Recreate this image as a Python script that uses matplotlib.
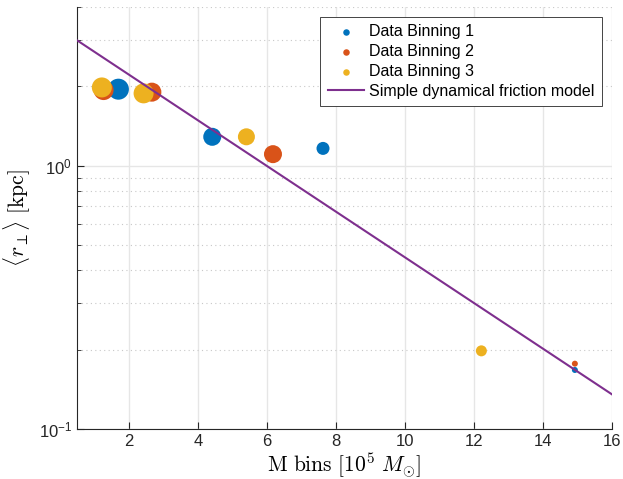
import matplotlib.pyplot as plt
import numpy as np

plt.rcParams['font.family'] = ['Liberation Sans', 'DejaVu Sans']
plt.rcParams['mathtext.fontset'] = 'custom'
plt.rcParams['mathtext.rm'] = 'Liberation Sans'
plt.rcParams['mathtext.it'] = 'Liberation Sans:italic'

# valori
x_bin1 = [1.70, 4.42, 7.63, 14.93]
y_bin1 = [1.95, 1.286, 1.162, 0.1675]
d_bin1 = [21, 18, 13, 6]      # diametro marker (px)

x_bin2 = [1.27, 2.67, 6.18, 14.93]
y_bin2 = [1.935, 1.90, 1.105, 0.177]
d_bin2 = [20, 19, 18, 6]

x_bin3 = [1.22, 2.43, 5.41, 12.22]
y_bin3 = [1.98, 1.88, 1.286, 0.198]
d_bin3 = [20, 20, 17, 11]

model_x = [0.5, 16.0]
model_y = [2.99, 0.1355]

colori = ['#0072BD', '#D95319', '#EDB120']
etichette = ['Data Binning 1', 'Data Binning 2', 'Data Binning 3']

fig = plt.figure(figsize=(6.23, 4.79), dpi=100)
ax = fig.add_axes([0.1236, 0.1044, 0.8584, 0.881])

def area(diametri):
    # px -> pt, poi area per scatter
    return (np.array(diametri) * 72 / 100) ** 2

serie = [(x_bin1, y_bin1, d_bin1), (x_bin2, y_bin2, d_bin2), (x_bin3, y_bin3, d_bin3)]
for (xs, ys, ds), c, lab in zip(serie, colori, etichette):
    ax.scatter(xs, ys, s=area(ds), color=c, linewidths=0, label=lab, zorder=3)

ax.plot(model_x, model_y, color='#7E2F8E', lw=1.5, label='Simple dynamical friction model', zorder=4)

ax.set_yscale('log')
ax.set_xlim(0.5, 16)
ax.set_ylim(0.1, 4)
ax.set_xticks([2, 4, 6, 8, 10, 12, 14, 16])

ax.grid(True, which='major', color='#e6e6e6', lw=1.0, ls='-')
ax.grid(True, which='minor', axis='y', color='#c8c8c8', lw=0.8, ls=(0, (1, 3)))
ax.set_axisbelow(True)

for lato in ['top', 'right']:
    ax.spines[lato].set_visible(False)
for lato in ['left', 'bottom']:
    ax.spines[lato].set_color('#262626')
    ax.spines[lato].set_linewidth(0.8)
ax.tick_params(which='both', direction='in', colors='#262626', labelsize=12)
ax.tick_params(which='major', length=5)
ax.tick_params(which='minor', length=3)
ax.tick_params(axis='x', which='minor', bottom=False)

ax.set_xlabel(r'$\mathrm{M\ bins\ [10^5\ }M_{\odot}\mathrm{]}$', fontsize=15.5, labelpad=1,
              math_fontfamily='cm')
ax.set_ylabel(r'$\langle r_{\perp} \rangle\ \mathrm{[kpc]}$', fontsize=15.5, labelpad=4,
              math_fontfamily='cm')

leg = ax.legend(loc='upper right', bbox_to_anchor=(0.981, 0.976), fontsize=11.5,
                frameon=True, fancybox=False, framealpha=1, edgecolor='#262626',
                handlelength=2.3, handletextpad=0.3, labelspacing=0.3,
                borderpad=0.45, borderaxespad=0, scatterpoints=1)
leg.get_frame().set_linewidth(0.6)
for h in leg.legend_handles[:3]:
    h.set_sizes([22])

plt.savefig('out.png', dpi=100)
